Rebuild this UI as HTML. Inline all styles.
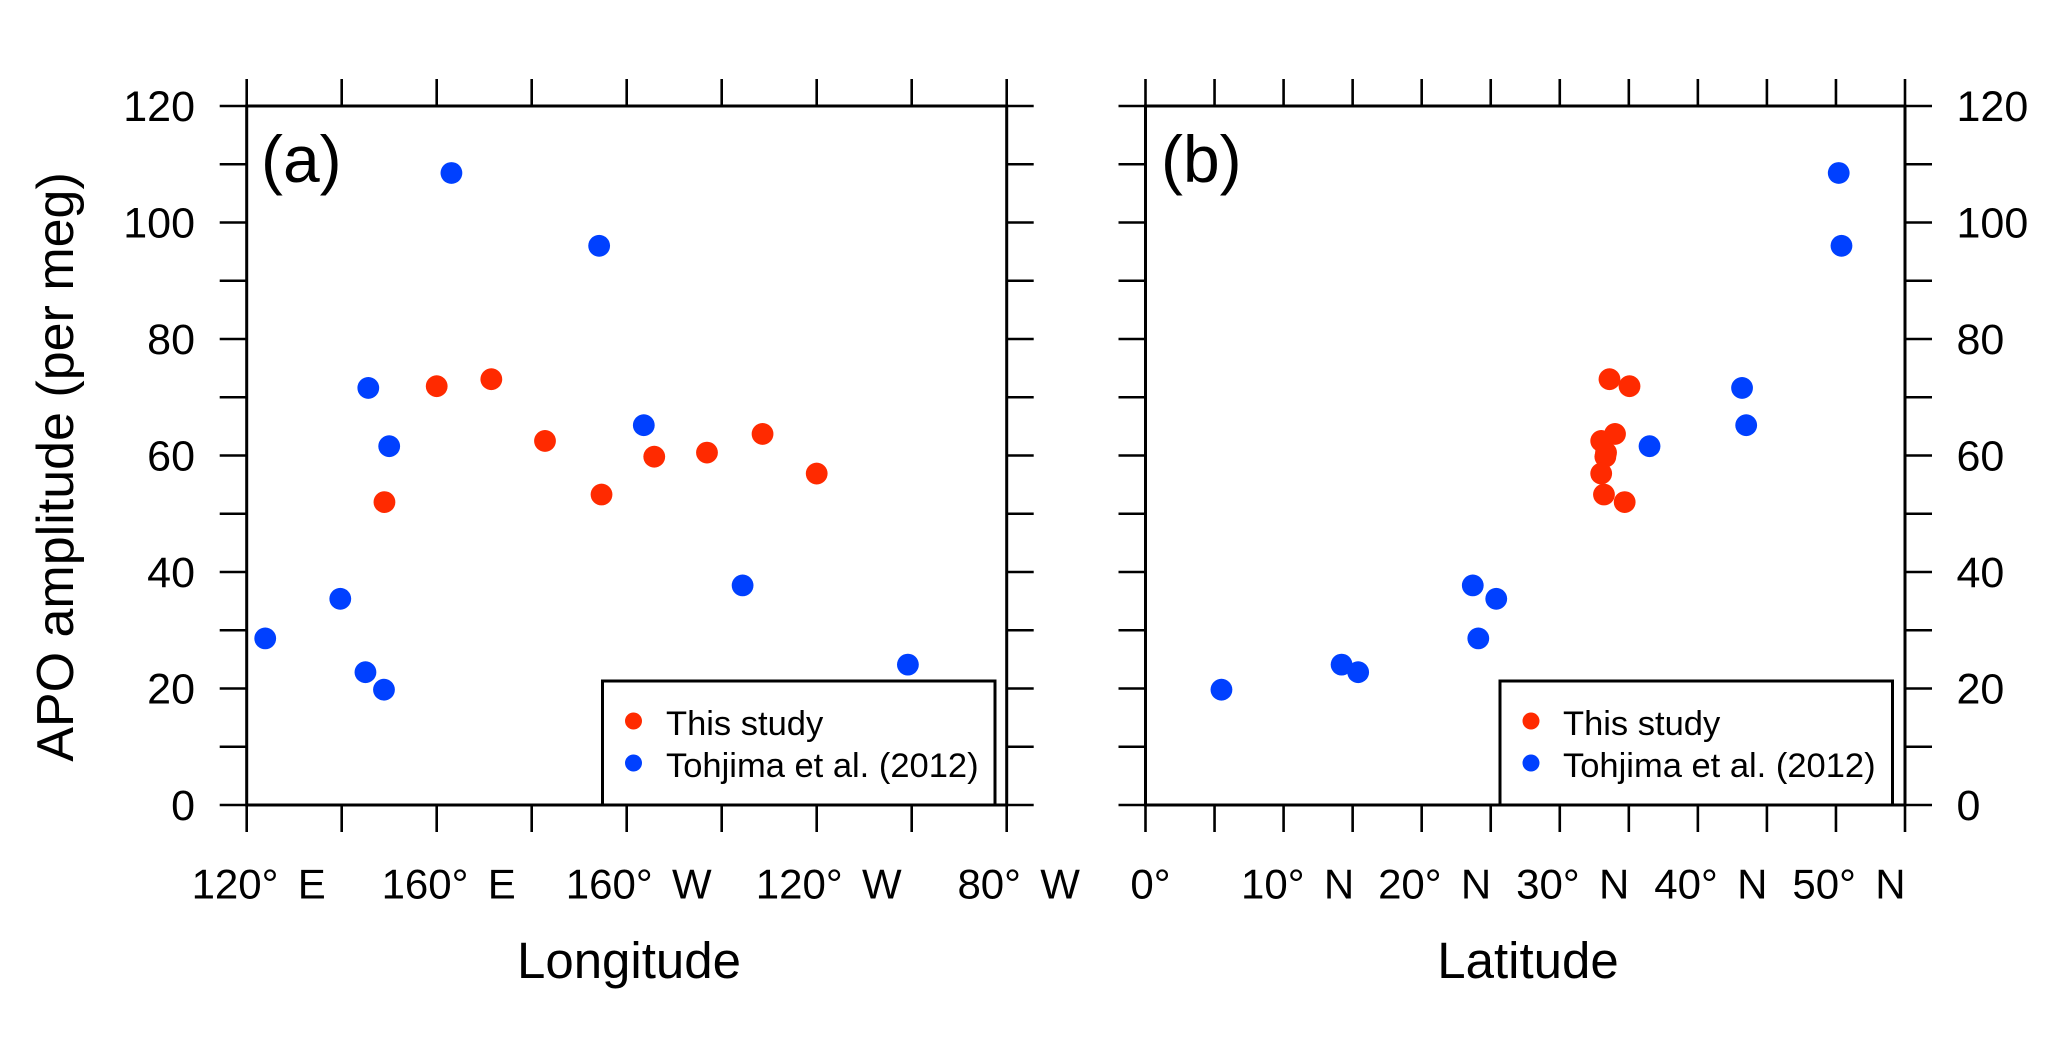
<!DOCTYPE html>
<html lang="en">
<head>
<meta charset="utf-8">
<title>APO amplitude vs longitude and latitude</title>
<style>
html,body{margin:0;padding:0;background:#fff;}
svg{display:block;}
text{font-family:"Liberation Sans",Arial,sans-serif;fill:#000;white-space:pre;}
</style>
</head>
<body>
<svg id="chart" xmlns="http://www.w3.org/2000/svg" width="2067" height="1042" viewBox="0 0 2067 1042">
  <rect x="0" y="0" width="2067" height="1042" fill="#fff"/>
  <g id="panelA"></g>
  <g id="panelB"></g>
  <text transform="translate(73,467) rotate(-90)" text-anchor="middle" font-size="52">APO amplitude (per meg)</text>
  <text x="629" y="978" text-anchor="middle" font-size="51">Longitude</text>
  <text x="1528" y="978" text-anchor="middle" font-size="51">Latitude</text>
  <text x="261" y="182" font-size="66">(a)</text>
  <text x="1161" y="182" font-size="66">(b)</text>
  <g>
    <rect x="602.5" y="681" width="392.5" height="124" fill="#fff" stroke="#000" stroke-width="3"/>
    <circle cx="633.5" cy="721" r="8.5" fill="#ff2a00"/>
    <circle cx="633.5" cy="763" r="8.5" fill="#0040ff"/>
    <text x="666" y="735" font-size="34.5">This study</text>
    <text x="666" y="777" font-size="34.5">Tohjima et al. (2012)</text>
  </g>
  <g>
    <rect x="1500" y="681" width="392.5" height="124" fill="#fff" stroke="#000" stroke-width="3"/>
    <circle cx="1531" cy="721" r="8.5" fill="#ff2a00"/>
    <circle cx="1531" cy="763" r="8.5" fill="#0040ff"/>
    <text x="1563" y="735" font-size="34.5">This study</text>
    <text x="1563" y="777" font-size="34.5">Tohjima et al. (2012)</text>
  </g>
</svg>
<script>
// Tick labels
const yTickValues = [0, 20, 40, 60, 80, 100, 120];
const yMinorTicks = [10, 30, 50, 70, 90, 110];
const lonTicks = [120, 140, 160, 180, 200, 220, 240, 260, 280];
const lonLabelTicks = [120, 160, 200, 240, 280];
const lonLabels = ['120°  E', '160°  E', '160°  W', '120°  W', '80°  W'];
const latTicks = [0, 5, 10, 15, 20, 25, 30, 35, 40, 45, 50, 55];
const latLabelTicks = [0, 10, 20, 30, 40, 50];
const latLabels = ['0°', '10°  N', '20°  N', '30°  N', '40°  N', '50°  N'];

// This study (red): degrees east, degrees north, per meg
const redLon = [160, 171.5, 182.8, 194.7, 205.8, 216.9, 228.6, 240, 149];
const redLat = [35.05, 33.6, 33, 33.2, 33.3, 33.35, 34, 33, 34.7];
const redAmp = [71.9, 73.1, 62.5, 53.3, 59.8, 60.5, 63.7, 56.9, 52];

// Tohjima et al. 2012 (blue)
const blueLon = [163.1, 194.2, 145.6, 150, 203.6, 139.7, 224.4, 123.9, 145, 148.9, 259.2];
const blueLat = [50.2, 50.4, 43.2, 36.5, 43.5, 25.4, 23.7, 24.1, 15.4, 5.5, 14.2];
const blueAmp = [108.5, 96, 71.6, 61.6, 65.2, 35.4, 37.7, 28.6, 22.8, 19.8, 24.1];

const NS = 'http://www.w3.org/2000/svg';
const TOP = 106, BOTTOM = 805;
const A_L = 246.7, A_R = 1006.7, B_L = 1145.5, B_R = 1905;
const TICK = 27;

function yScale(v) { return BOTTOM - (v / 120) * (BOTTOM - TOP); }
function lonScale(v) { return A_L + (v - 120) / 160 * (A_R - A_L); }
function latScale(v) { return B_L + v / 55 * (B_R - B_L); }

function make(parent, tag, attrs) {
  const el = document.createElementNS(NS, tag);
  for (const k in attrs) el.setAttribute(k, attrs[k]);
  parent.appendChild(el);
  return el;
}
function lineAttrs(x1, y1, x2, y2) {
  return { x1: x1, y1: y1, x2: x2, y2: y2, stroke: '#000', 'stroke-width': 2.6 };
}

function drawPanel(g, left, right, xTicks, xScale, labelTicks, labels, labelOffsets, yLabelsLeft, rl, ra, bl, ba) {
  const frame = make(g, 'rect', { x: left, y: TOP, width: right - left, height: BOTTOM - TOP, fill: 'none', stroke: '#000', 'stroke-width': 3 });
  
  

  xTicks.forEach(function (t) {
    const x = xScale(t);
    const bottomTick = make(g, 'line', lineAttrs(x, BOTTOM, x, BOTTOM + TICK));
    
    
    const topTick = make(g, 'line', lineAttrs(x, TOP, x, TOP - TICK));
    
    
  });

  yTickValues.concat(yMinorTicks).forEach(function (t) {
    const y = yScale(t);
    const leftTick = make(g, 'line', lineAttrs(left, y, left - TICK, y));
    
    
    const rightTick = make(g, 'line', lineAttrs(right, y, right + TICK, y));
    
    
  });

  labelTicks.forEach(function (t, i) {
    const label = make(g, 'text', { x: xScale(t) + labelOffsets[i], y: 898.5, 'text-anchor': 'middle', 'font-size': 42, 'word-spacing': -2 });
    
    
    label.textContent = labels[i];
  });

  yTickValues.forEach(function (t) {
    const attrs = yLabelsLeft
      ? { x: 195, y: yScale(t) + 15, 'text-anchor': 'end', 'font-size': 43 }
      : { x: 1956.5, y: yScale(t) + 15, 'text-anchor': 'start', 'font-size': 43 };
    const label = make(g, 'text', attrs);
    
    
    label.textContent = String(t);
  });

  bl.forEach(function (v, i) {
    const pt = make(g, 'circle', { cx: xScale(v), cy: yScale(ba[i]), r: 10.9, fill: '#0040ff' });
    
    
  });
  rl.forEach(function (v, i) {
    const pt = make(g, 'circle', { cx: xScale(v), cy: yScale(ra[i]), r: 10.9, fill: '#ff2a00' });
    
    
  });
}

drawPanel(document.getElementById('panelA'), A_L, A_R, lonTicks, lonScale, lonLabelTicks, lonLabels,
  [12, 12, 12, 12, 12], true, redLon, redAmp, blueLon, blueAmp);
drawPanel(document.getElementById('panelB'), B_L, B_R, latTicks, latScale, latLabelTicks, latLabels,
  [5, 14, 13, 13, 13, 13], false, redLat, redAmp, blueLat, blueAmp);
</script>
</body>
</html>
